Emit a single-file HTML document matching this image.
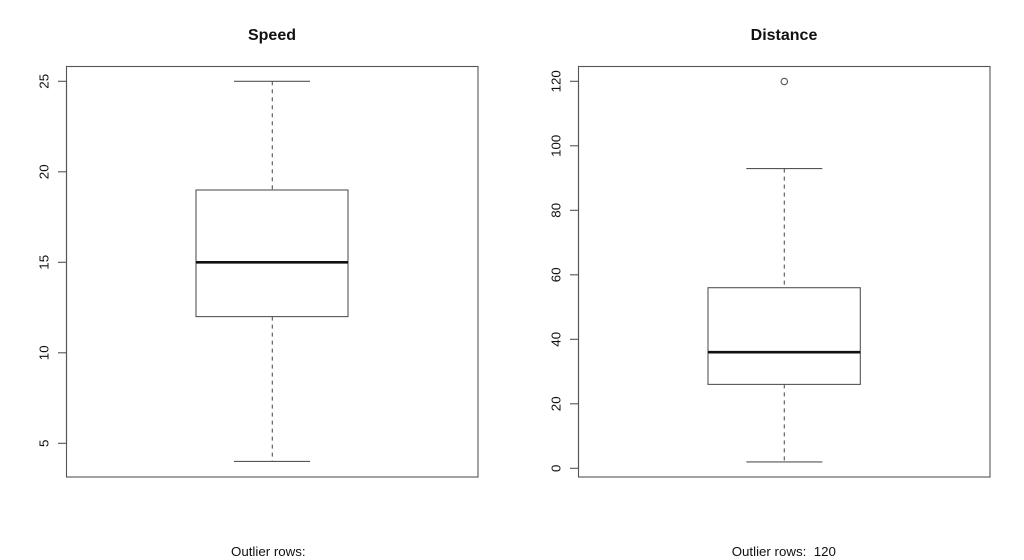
<!DOCTYPE html>
<html>
<head>
<meta charset="utf-8">
<style>
  html, body { margin: 0; padding: 0; background: #fff; }
  svg { display: block; }
  text { font-family: "Liberation Sans", Arial, sans-serif; fill: #111; }
</style>
</head>
<body>
<svg width="1024" height="560" viewBox="0 0 1024 560" xmlns="http://www.w3.org/2000/svg">
  <rect x="0" y="0" width="1024" height="560" fill="#fff"/>

  <!-- ===== Left panel: Speed ===== -->
  <text x="272" y="40" text-anchor="middle" font-size="16" font-weight="bold">Speed</text>
  <rect x="66.5" y="66.5" width="411.5" height="410.5" fill="none" stroke="#555" stroke-width="1.1"/>
  <!-- y axis -->
  <g stroke="#555" stroke-width="1.1">
    <line x1="66.5" y1="81" x2="66.5" y2="443"/>
    <line x1="58" y1="81.3" x2="66.5" y2="81.3"/>
    <line x1="58" y1="171.8" x2="66.5" y2="171.8"/>
    <line x1="58" y1="262.3" x2="66.5" y2="262.3"/>
    <line x1="58" y1="352.8" x2="66.5" y2="352.8"/>
    <line x1="58" y1="443.3" x2="66.5" y2="443.3"/>
  </g>
  <g font-size="13.3" text-anchor="middle">
    <text transform="translate(48.5,81.3) rotate(-90)">25</text>
    <text transform="translate(48.5,171.8) rotate(-90)">20</text>
    <text transform="translate(48.5,262.3) rotate(-90)">15</text>
    <text transform="translate(48.5,352.8) rotate(-90)">10</text>
    <text transform="translate(48.5,443.3) rotate(-90)">5</text>
  </g>
  <!-- box -->
  <g stroke="#555" stroke-width="1.1" fill="none">
    <line x1="272.3" y1="81.3" x2="272.3" y2="190" stroke-dasharray="4,4"/>
    <line x1="272.3" y1="316.6" x2="272.3" y2="461.4" stroke-dasharray="4,4"/>
    <line x1="234" y1="81.3" x2="310" y2="81.3"/>
    <line x1="234" y1="461.4" x2="310" y2="461.4"/>
    <rect x="196" y="190" width="152" height="126.6" fill="#fff"/>
  </g>
  <line x1="196" y1="262.3" x2="348" y2="262.3" stroke="#111" stroke-width="2.6"/>
  <text x="231" y="556" font-size="13.3">Outlier rows:</text>

  <!-- ===== Right panel: Distance ===== -->
  <text x="784" y="40" text-anchor="middle" font-size="16" font-weight="bold">Distance</text>
  <rect x="578.5" y="66.5" width="411.5" height="410.5" fill="none" stroke="#555" stroke-width="1.1"/>
  <g stroke="#555" stroke-width="1.1">
    <line x1="578.5" y1="81.3" x2="578.5" y2="468.3"/>
    <line x1="570" y1="468.3" x2="578.5" y2="468.3"/>
    <line x1="570" y1="403.8" x2="578.5" y2="403.8"/>
    <line x1="570" y1="339.3" x2="578.5" y2="339.3"/>
    <line x1="570" y1="274.8" x2="578.5" y2="274.8"/>
    <line x1="570" y1="210.3" x2="578.5" y2="210.3"/>
    <line x1="570" y1="145.8" x2="578.5" y2="145.8"/>
    <line x1="570" y1="81.3" x2="578.5" y2="81.3"/>
  </g>
  <g font-size="13.3" text-anchor="middle">
    <text transform="translate(560.5,468.3) rotate(-90)">0</text>
    <text transform="translate(560.5,403.8) rotate(-90)">20</text>
    <text transform="translate(560.5,339.3) rotate(-90)">40</text>
    <text transform="translate(560.5,274.8) rotate(-90)">60</text>
    <text transform="translate(560.5,210.3) rotate(-90)">80</text>
    <text transform="translate(560.5,145.8) rotate(-90)">100</text>
    <text transform="translate(560.5,81.3) rotate(-90)">120</text>
  </g>
  <g stroke="#555" stroke-width="1.1" fill="none">
    <line x1="784.3" y1="168.6" x2="784.3" y2="287.7" stroke-dasharray="4,4"/>
    <line x1="784.3" y1="384.4" x2="784.3" y2="461.9" stroke-dasharray="4,4"/>
    <line x1="746.3" y1="168.6" x2="822.3" y2="168.6"/>
    <line x1="746.3" y1="461.9" x2="822.3" y2="461.9"/>
    <rect x="708" y="287.7" width="152.3" height="96.7" fill="#fff"/>
    <circle cx="784.3" cy="81.5" r="3.2"/>
  </g>
  <line x1="708" y1="352.2" x2="860.3" y2="352.2" stroke="#111" stroke-width="2.6"/>
  <text x="731.7" y="556" font-size="13.3" xml:space="preserve">Outlier rows:  120</text>
</svg>
</body>
</html>
